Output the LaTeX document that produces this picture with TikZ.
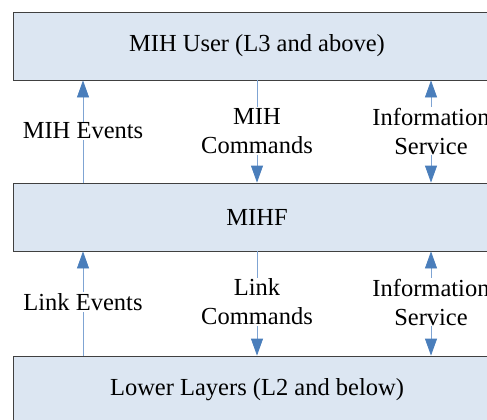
\documentclass[tikz,border=0pt]{standalone}
\usepackage{fontspec}
\setmainfont{Liberation Serif}
\usepackage{tikz}
\usetikzlibrary{arrows.meta}
\usetikzlibrary{positioning}
\definecolor{boxfill}{HTML}{DCE6F2}
\definecolor{tipblue}{HTML}{4A7EBB}
\definecolor{lineblue}{HTML}{7FA4D3}
\begin{document}
\begin{tikzpicture}[x=1pt,y=-1pt,
  every node/.style={font=\fontsize{24.5}{29}\selectfont},
  layer/.style={draw=black!75,fill=boxfill,line width=0.8pt,minimum width=488pt,minimum height=68pt,inner sep=0pt},
  tag/.style={fill=white,align=center,inner sep=1pt},
  flow/.style={lineblue,line width=0.8pt},
  tip/.style={-{Triangle[width=12pt,length=17pt,color=tipblue]}},
  tips/.style={{Triangle[width=12pt,length=17pt,color=tipblue]}-{Triangle[width=12pt,length=17pt,color=tipblue]}}]
  \useasboundingbox (0,0) rectangle (487,420);
  \begin{scope}
  \clip (0,0) rectangle (487,420);
  \node[layer] (user) at (257,46) {MIH User (L3 and above)};
  \node[layer] (mihf) at (257,217) {MIHF};
  \node[layer] (lower) at (257,390) {Lower Layers (L2 and below)};
  \end{scope}
  % upper gap
  \coordinate (c1) at (83,0);
  \coordinate (c2) at (257,0);
  \coordinate (c3) at (431,0);
  \draw[flow,tip] (mihf.north -| c1) -- (user.south -| c1);
  \draw[flow,tip] (user.south -| c2) -- (mihf.north -| c2);
  \draw[flow,tips] (user.south -| c3) -- (mihf.north -| c3);
  \node[tag] (evt1) at (83,131) {MIH Events};
  \node[tag] (cmd1) at (257,131) {MIH\\Commands};
  \node[tag] (inf1) at (431,131) {Information\\Service};
  % lower gap
  \draw[flow,tip] (lower.north -| c1) -- (mihf.south -| c1);
  \draw[flow,tip] (mihf.south -| c2) -- (lower.north -| c2);
  \draw[flow,tips] (mihf.south -| c3) -- (lower.north -| c3);
  \node[tag] (evt2) at (83,302) {Link Events};
  \node[tag] (cmd2) at (257,302) {Link\\Commands};
  \node[tag] (inf2) at (431,302) {Information\\Service};
\end{tikzpicture}
\end{document}
